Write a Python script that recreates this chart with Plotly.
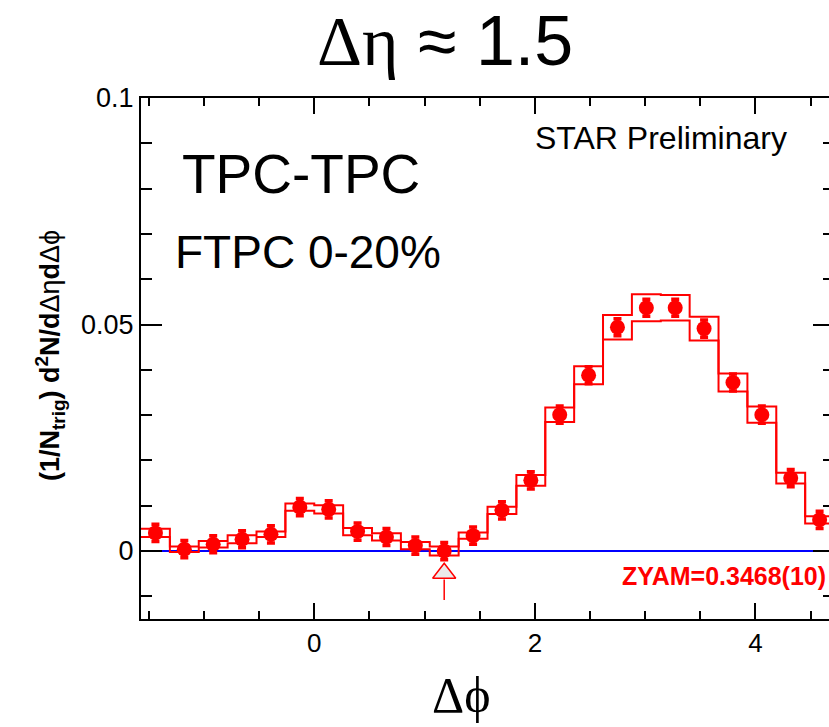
import numpy as np
import plotly.graph_objects as go

# ---------------- data ----------------
PI = np.pi
dphi_lo, dphi_hi = -PI / 2, 3 * PI / 2
n_bins = 24

yield_vals = [0.0040, 0.0004, 0.0015, 0.0026, 0.0037, 0.0097, 0.0092, 0.0043,
              0.0031, 0.0012, 0.0000, 0.0034, 0.0090, 0.0156, 0.0301, 0.0388,
              0.0494, 0.0537, 0.0537, 0.0491, 0.0372, 0.0301, 0.0161, 0.0069]
stat_err = [0.0019] * n_bins
sys_err = [0.0009, 0.0006, 0.0007, 0.0009, 0.0006, 0.0008, 0.0009, 0.0008,
           0.0008, 0.0008, 0.0010, 0.0007, 0.0008, 0.0012, 0.0016, 0.0020,
           0.0027, 0.0030, 0.0028, 0.0026, 0.0020, 0.0018, 0.0012, 0.0008]
zyam_bin = 10
zyam_label = "ZYAM=0.3468(10)"
x_ticks = [0, 2, 4]
y_ticks = [0, 0.05, 0.1]
y_ticktext = ["0", "0.05", "0.1"]

# arrow marker levels (data units)
arrow_head_y = -0.0049
arrow_stem = [-0.0063, -0.0108]

# ---------------- derived ----------------
edges = np.linspace(dphi_lo, dphi_hi, n_bins + 1)
centers = 0.5 * (edges[:-1] + edges[1:])
upper = [v + s for v, s in zip(yield_vals, sys_err)]
lower = [v - s for v, s in zip(yield_vals, sys_err)]

RED = "#ff0000"
SANS = "Liberation Sans, Arial, sans-serif"
SERIF = "Liberation Serif, Times New Roman, serif"

fig = go.Figure()

# zero line
fig.add_trace(go.Scatter(x=[dphi_lo, dphi_hi], y=[0, 0], mode="lines",
                         line=dict(color="#0000ff", width=2), hoverinfo="skip"))
# systematic band outlines (upper and lower step histograms)
for band in (upper, lower):
    fig.add_trace(go.Scatter(x=list(edges), y=band + [band[-1]], mode="lines",
                             line=dict(color=RED, width=2, shape="hv"),
                             hoverinfo="skip"))
# points
fig.add_trace(go.Scatter(x=centers, y=yield_vals, mode="markers",
                         marker=dict(color=RED, size=15, symbol="circle"),
                         error_y=dict(type="data", array=stat_err, color=RED,
                                      thickness=3.5, width=4)))
# ZYAM arrow
fig.add_trace(go.Scatter(x=[centers[zyam_bin]] * 2, y=arrow_stem, mode="lines",
                         line=dict(color=RED, width=1.5), hoverinfo="skip"))
fig.add_trace(go.Scatter(x=[centers[zyam_bin]], y=[arrow_head_y], mode="markers",
                         marker=dict(symbol="triangle-up", size=20, color="#ebebeb",
                                     line=dict(color=RED, width=1.5)),
                         hoverinfo="skip"))
# dummy for right axis
fig.add_trace(go.Scatter(x=[dphi_lo], y=[None], yaxis="y2", mode="markers",
                         showlegend=False, hoverinfo="skip"))

W, H = 829, 727
ml, mt, mb = 141, 98, 108
px_per_unit = 110.3
x_right = dphi_lo + (W - ml) / px_per_unit
yr = [-0.015, 0.1]

axis_common = dict(showgrid=False, zeroline=False, linecolor="black",
                   tickcolor="black", ticks="inside")

fig.update_layout(
    width=W, height=H, autosize=False,
    margin=dict(l=ml, r=0, t=mt, b=mb, pad=0),
    paper_bgcolor="white", plot_bgcolor="white",
    showlegend=False,
    xaxis=dict(range=[dphi_lo, x_right], tickvals=x_ticks, ticklen=16, tickwidth=1.5,
               minor=dict(dtick=0.5, tick0=0, ticklen=8, ticks="inside",
                          tickcolor="black", tickwidth=1.5),
               showline=True, linewidth=2, mirror="ticks",
               tickfont=dict(family=SANS, size=26, color="black"),
               ticklabelstandoff=0, **axis_common),
    yaxis=dict(range=yr, tickvals=y_ticks, ticktext=y_ticktext,
               ticklen=21, tickwidth=1.5,
               minor=dict(dtick=0.01, tick0=0, ticklen=11, ticks="inside",
                          tickcolor="black", tickwidth=1.5),
               showline=True, linewidth=2,
               tickfont=dict(family=SANS, size=27, color="black"), **axis_common),
    yaxis2=dict(range=yr, overlaying="y", side="right", anchor="x",
                tickvals=y_ticks, ticklen=16, tickwidth=1.5,
                minor=dict(dtick=0.01, tick0=0, ticklen=6, ticks="inside",
                           tickcolor="black", tickwidth=1.5),
                showline=False, showticklabels=False, **axis_common),
)

def py(ypix):
    return (H - mb - ypix) / (H - mb - mt)

def px(xpix):
    return (xpix - ml) / (W - ml)

ann = [
    dict(text=f"<span style='font-family:{SERIF}'>Δη</span> ≈ 1.5",
         x=px(445), y=py(0), yanchor="top", font=dict(family=SANS, size=70, color="black")),
    dict(text="Δϕ", x=px(461), y=py(695), font=dict(family=SERIF, size=50, color="black")),
    dict(text="<b>(1/N<sub>trig</sub>) d<sup>2</sup>N/d</b>Δη<b>d</b>Δϕ",
         x=px(50), y=py(355), textangle=-90,
         font=dict(family=SANS, size=27, color="black")),
    dict(text="TPC-TPC", x=px(180), y=py(174), xanchor="left",
         font=dict(family=SANS, size=55, color="black")),
    dict(text="FTPC 0-20%", x=px(173), y=py(252), xanchor="left",
         font=dict(family=SANS, size=46, color="black")),
    dict(text="STAR Preliminary", x=px(533), y=py(138), xanchor="left",
         font=dict(family=SANS, size=32, color="black")),
    dict(text=f"<b>{zyam_label}</b>", x=px(828), y=py(576), xanchor="right",
         font=dict(family=SANS, size=25, color=RED)),
]
for a in ann:
    a.setdefault("xanchor", "center")
    a.setdefault("yanchor", "middle")
    a.update(xref="paper", yref="paper", showarrow=False)
fig.update_layout(annotations=ann)

fig.write_html("out.html")
